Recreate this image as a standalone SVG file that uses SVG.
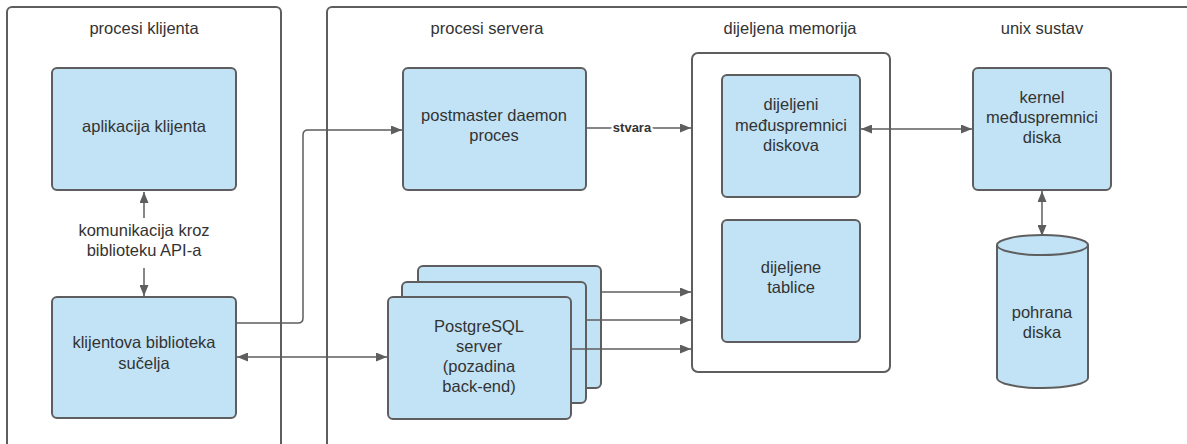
<svg xmlns="http://www.w3.org/2000/svg" width="1187" height="444" viewBox="0 0 1187 444">
<style>
.cont{fill:#fff;stroke:#5e5e5e;stroke-width:2}
.box{fill:#c2e3f6;stroke:#5e5e5e;stroke-width:2}
.t{font-family:"Liberation Sans",Arial,sans-serif;font-size:16.5px;fill:#333;text-anchor:middle}
.lbl{font-family:"Liberation Sans",Arial,sans-serif;font-size:13px;font-weight:bold;fill:#333;text-anchor:middle;stroke:#fff;stroke-width:4;paint-order:stroke}
.c{fill:none;stroke:#5e5e5e;stroke-width:1.5}
</style>
<defs>
<marker id="ah" markerUnits="userSpaceOnUse" markerWidth="11" markerHeight="9" refX="11" refY="4.5" orient="auto-start-reverse">
<path d="M0,0 L11,4.5 L0,9 z" fill="#5e5e5e"/>
</marker>
</defs>
<rect fill="#fff" x="0" y="0" width="1187" height="444"/>
<g id="client-processes">
<rect class="cont" x="7" y="7" width="274" height="470" rx="5"/>
<text class="t" x="144" y="34">procesi klijenta</text>
</g>
<g id="server-processes">
<rect class="cont" x="327" y="7" width="900" height="470" rx="5"/>
<text class="t" x="487" y="34">procesi servera</text>
<text class="t" x="790" y="34">dijeljena memorija</text>
<text class="t" x="1042" y="34">unix sustav</text>
</g>
<g id="shared-memory">
<rect class="cont" x="692" y="53" width="198" height="319" rx="6"/>
</g>
<g id="client-app">
<rect class="box" x="52" y="68" width="184" height="122" rx="5"/>
<text class="t" x="144" y="132">aplikacija klijenta</text>
</g>
<g id="client-lib">
<rect class="box" x="52" y="297" width="184" height="121" rx="5"/>
<text class="t" x="144" y="348">klijentova biblioteka</text>
<text class="t" x="144" y="369">sučelja</text>
</g>
<g id="postmaster">
<rect class="box" x="403" y="68" width="183" height="122" rx="5"/>
<text class="t" x="494" y="121">postmaster daemon</text>
<text class="t" x="494" y="141">proces</text>
</g>
<g id="postgres-server">
<rect class="box" x="418" y="266" width="183" height="122" rx="5"/>
<rect class="box" x="402" y="282" width="184" height="121" rx="5"/>
<rect class="box" x="388" y="297" width="183" height="122" rx="5"/>
<text class="t" x="479" y="332">PostgreSQL</text>
<text class="t" x="479" y="352">server</text>
<text class="t" x="479" y="372">(pozadina</text>
<text class="t" x="479" y="392">back-end)</text>
</g>
<g id="shared-buffers">
<rect class="box" x="722" y="75" width="138" height="122" rx="5"/>
<text class="t" x="791" y="110">dijeljeni</text>
<text class="t" x="791" y="131">međuspremnici</text>
<text class="t" x="791" y="151">diskova</text>
</g>
<g id="shared-tables">
<rect class="box" x="722" y="220" width="138" height="122" rx="5"/>
<text class="t" x="791" y="273">dijeljene</text>
<text class="t" x="791" y="293">tablice</text>
</g>
<g id="kernel-buffers">
<rect class="box" x="973" y="68" width="138" height="122" rx="5"/>
<text class="t" x="1042" y="103">kernel</text>
<text class="t" x="1042" y="123">međuspremnici</text>
<text class="t" x="1042" y="143">diska</text>
</g>
<g id="disk-storage">
<path class="box" d="M997,245 A45.5,10 0 0 1 1088,245 V378 A45.5,10 0 0 1 997,378 Z"/>
<path class="box" style="fill:none" d="M997,245 A45.5,10 0 0 0 1088,245"/>
<text class="t" x="1042" y="318">pohrana</text>
<text class="t" x="1042" y="338">diska</text>
</g>
<g id="connectors">
<path class="c" d="M144,218 V192" marker-end="url(#ah)"/>
<path class="c" d="M144,268 V296" marker-end="url(#ah)"/>
<text class="t" x="144" y="236">komunikacija kroz</text>
<text class="t" x="144" y="256">biblioteku API-a</text>
<path class="c" d="M237,323 H298 Q303,323 303,318 V135 Q303,130 308,130 H402" marker-end="url(#ah)"/>
<path class="c" d="M587,128 H691" marker-end="url(#ah)"/>
<text class="lbl" x="632" y="132">stvara</text>
<path class="c" d="M861,129 H972" marker-start="url(#ah)" marker-end="url(#ah)"/>
<path class="c" d="M1042,191 V236" marker-start="url(#ah)" marker-end="url(#ah)"/>
<path class="c" d="M602,292 H691" marker-end="url(#ah)"/>
<path class="c" d="M587,320 H691" marker-end="url(#ah)"/>
<path class="c" d="M572,349 H691" marker-end="url(#ah)"/>
<path class="c" d="M237,357 H387" marker-start="url(#ah)" marker-end="url(#ah)"/>
</g>
</svg>
